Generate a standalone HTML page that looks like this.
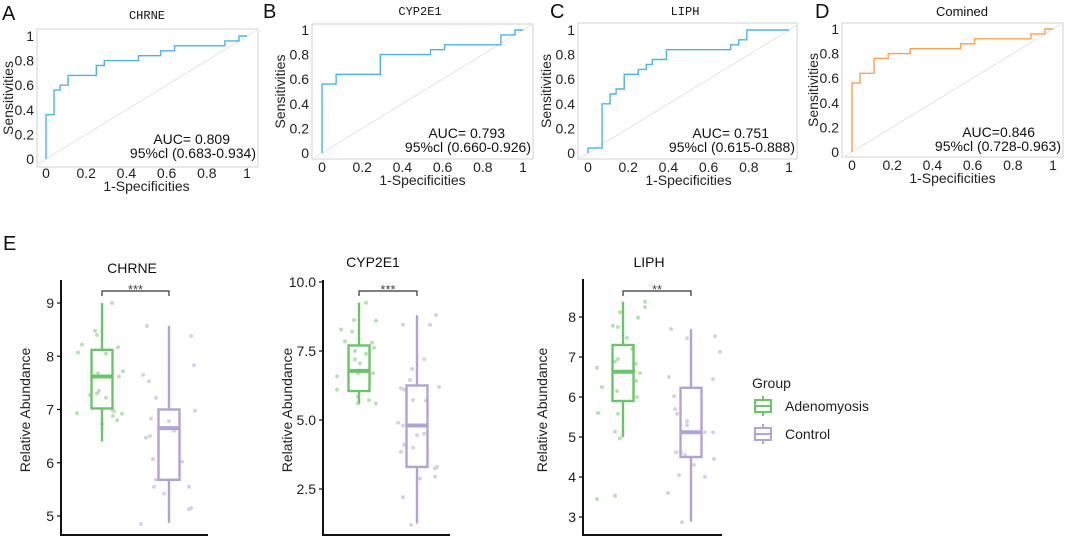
<!DOCTYPE html>
<html><head><meta charset="utf-8"><style>
body{margin:0;background:#fff;}
svg{display:block;font-family:"Liberation Sans",sans-serif;}
</style></head><body>
<svg id="fig" width="1065" height="538" viewBox="0 0 1065 538" xmlns="http://www.w3.org/2000/svg"></svg>
<script>
// ROC data (fpr vertices, tpr vertices)
const rocA_fpr=[0,0,0.04,0.04,0.07,0.07,0.11,0.11,0.25,0.25,0.29,0.29,0.46,0.46,0.57,0.57,0.64,0.64,0.89,0.89,0.96,0.96,1];
const rocA_tpr=[0,0.36,0.36,0.56,0.56,0.6,0.6,0.68,0.68,0.76,0.76,0.8,0.8,0.84,0.84,0.88,0.88,0.92,0.92,0.96,0.96,1,1];
const rocB_fpr=[0,0,0.07,0.07,0.29,0.29,0.54,0.54,0.61,0.61,0.89,0.89,0.96,0.96,1];
const rocB_tpr=[0,0.56,0.56,0.64,0.64,0.8,0.8,0.84,0.84,0.88,0.88,0.96,0.96,1,1];
const rocC_fpr=[0,0,0.07,0.07,0.11,0.11,0.14,0.14,0.18,0.18,0.25,0.25,0.29,0.29,0.32,0.32,0.39,0.39,0.71,0.71,0.75,0.75,0.79,0.79,1];
const rocC_tpr=[0,0.04,0.04,0.4,0.4,0.48,0.48,0.52,0.52,0.64,0.64,0.68,0.68,0.72,0.72,0.76,0.76,0.84,0.84,0.88,0.88,0.92,0.92,1,1];
const rocD_fpr=[0,0,0.04,0.04,0.11,0.11,0.18,0.18,0.29,0.29,0.54,0.54,0.61,0.61,0.89,0.89,0.96,0.96,1];
const rocD_tpr=[0,0.56,0.56,0.64,0.64,0.76,0.76,0.8,0.8,0.84,0.84,0.88,0.88,0.92,0.92,0.96,0.96,1,1];
const rocTitles=["CHRNE","CYP2E1","LIPH","Comined"];
const rocAUC=["AUC= 0.809","AUC= 0.793","AUC= 0.751","AUC=0.846"];
const rocCI=["95%cl (0.683-0.934)","95%cl (0.660-0.926)","95%cl (0.615-0.888)","95%cl (0.728-0.963)"];
const rocTicks=[0,0.2,0.4,0.6,0.8,1];
const rocTickLabels=["0","0.2","0.4","0.6","0.8","1"];

// Boxplot data: [whiskerLow, q1, median, q3, whiskerHigh]
const boxTitles=["CHRNE","CYP2E1","LIPH"];
const chrneAdeno=[6.4,7.02,7.62,8.12,9.0];
const chrneCtrl=[4.87,5.68,6.65,7.0,8.57];
const cypAdeno=[5.6,6.05,6.78,7.7,9.25];
const cypCtrl=[1.25,3.3,4.8,6.25,8.8];
const liphAdeno=[5.0,5.9,6.63,7.3,8.38];
const liphCtrl=[2.88,4.5,5.12,6.23,7.7];
const sigLabels=["***","***","**"];
const chrneTicks=[5,6,7,8,9];
const cypTicks=[2.5,5.0,7.5,10.0];
const cypTickLabels=["2.5","5.0","7.5","10.0"];
const liphTicks=[3,4,5,6,7,8];
// jitter points: values and jitter offsets
const chrneAdenoPts=[9.0,8.48,8.4,8.22,8.07,8.17,8.05,7.72,7.62,7.68,7.27,7.35,7.3,7.22,6.93,6.97,6.88,6.8,6.92,6.73,7.0];
const chrneAdenoJit=[10,-7,-5,-20,-24,16,4,21,17,-4,-12,-3,-5,4,-25,12,11,15,20,0,10];
const chrneCtrlPts=[8.57,8.38,7.83,7.65,7.53,7.22,6.98,6.83,6.78,6.6,6.47,6.5,6.07,6.02,5.68,5.55,5.55,5.42,5.15,5.13,4.85];
const chrneCtrlJit=[-22,22,25,-26,-20,-13,26,-18,0,5,-23,-19,-16,13,-13,-15,20,-5,22,20,-28];
const cypAdenoPts=[9.25,8.62,8.6,8.28,8.2,7.85,7.8,7.62,7.5,7.4,7.05,6.7,6.7,6.58,6.1,5.85,5.72,5.6,5.6,7.2];
const cypAdenoJit=[7,-5,17,-18,-7,-14,13,15,-4,7,1,14,-1,-22,-22,-1,10,17,-1,-4];
const cypCtrlPts=[8.8,8.45,8.45,7.2,6.85,6.45,6.2,6.15,6.1,5.72,5.7,4.9,4.8,4.5,4.45,4.1,4.0,3.85,3.3,3.25,2.95,2.88,2.2,1.2];
const cypCtrlJit=[19,13,-14,7,-5,-7,22,-16,-13,-4,9,-19,-14,7,0,-13,-4,-16,20,18,18,3,-14,-6];
const liphAdenoPts=[8.38,8.25,8.12,7.98,7.78,7.75,7.48,7.2,6.95,6.88,6.83,6.73,6.65,6.6,6.4,6.25,6.15,6.0,5.6,5.58,5.13,4.97,3.53,3.45];
const liphAdenoJit=[22,22,-3,15,-10,-5,4,9,-5,-8,13,-26,11,17,13,-21,-6,14,-25,-5,-8,-3,-8,-26];
const liphCtrlPts=[7.7,7.52,7.47,7.13,6.5,6.45,6.02,5.7,5.58,5.4,5.3,5.12,5.12,4.62,4.62,4.55,4.45,4.3,4.05,4.0,3.6,2.87];
const liphCtrlJit=[-20,24,-4,29,-22,22,-17,-16,-14,-4,-4,14,22,-15,-10,-6,23,3,-12,14,-23,-9];

const NS="http://www.w3.org/2000/svg";
const svg=document.getElementById('fig');
function mk(tag,attrs,parent,txt){const e=document.createElementNS(NS,tag);for(const k in attrs)e.setAttribute(k,attrs[k]);if(txt!==undefined)e.textContent=txt;(parent||svg).appendChild(e);return e;}

const rocPanels=[
 {fpr:rocA_fpr,tpr:rocA_tpr,f:[37,29,258,167],x0:46,x1:247,y0:159,y1:36,lab:"A",lx:2,ly:20,ty:19,tx:147,xtY:178,xtitY:191,ylX:13,col:"#4db3e6",mono:true},
 {fpr:rocB_fpr,tpr:rocB_tpr,f:[312,24,533,159],x0:322,x1:523,y0:153,y1:30,lab:"B",lx:263,ly:18,ty:15,tx:420,xtY:172,xtitY:185,ylX:285,col:"#4db3e6",mono:true},
 {fpr:rocC_fpr,tpr:rocC_tpr,f:[578,23,797,159],x0:588,x1:789,y0:153,y1:30,lab:"C",lx:550,ly:18,ty:15,tx:685,xtY:172,xtitY:185,ylX:551,col:"#4db3e6",mono:true},
 {fpr:rocD_fpr,tpr:rocD_tpr,f:[842,23,1063,157],x0:852,x1:1053,y0:152,y1:29,lab:"D",lx:815,ly:18,ty:16,tx:962,xtY:170,xtitY:183,ylX:818,col:"#f5a24f",mono:false}
];
rocPanels.forEach((p,i)=>{
 const g=mk('g',{});
 
 
 const sx=v=>p.x0+v*(p.x1-p.x0), sy=v=>p.y0-v*(p.y0-p.y1);
 const pl=mk('text',{x:p.lx,y:p.ly,'font-size':20,fill:'#111'},g,p.lab);
 
 const t=mk('text',{x:p.tx,y:p.ty,'font-size':p.mono?12:13,'text-anchor':'middle',fill:'#111','font-family':p.mono?'"Liberation Mono",monospace':'"Liberation Sans",sans-serif'},g,rocTitles[i]);
 
 const fr=mk('rect',{x:p.f[0],y:p.f[1],width:p.f[2]-p.f[0],height:p.f[3]-p.f[1],fill:'none',stroke:'#d0d0d0','stroke-width':1},g);
 
 const dg=mk('line',{x1:sx(-0.04),y1:sy(-0.04),x2:sx(1.04),y2:sy(1.04),stroke:'#e4e4e4','stroke-width':1},g);
 
 rocTicks.forEach((v,k)=>{
  const a=mk('text',{x:sx(v),y:p.xtY,'font-size':14,'text-anchor':'middle',fill:'#222'},g,rocTickLabels[k]);
  
  const b=mk('text',{x:p.f[0]-3,y:sy(v)+5,'font-size':14,'text-anchor':'end',fill:'#222'},g,rocTickLabels[k]);
  
 });
 const xt=mk('text',{x:(p.x0+p.x1)/2,y:p.xtitY,'font-size':14,'text-anchor':'middle',fill:'#222'},g,'1-Specificities');
 
 const cy=(p.f[1]+p.f[3])/2;
 const yt=mk('text',{x:p.ylX,y:cy,'font-size':14,'text-anchor':'middle',fill:'#222',transform:`rotate(-90 ${p.ylX} ${cy})`},g,'Sensitivities');
 
 let d='';p.fpr.forEach((v,k)=>{d+=(k?'L':'M')+sx(v).toFixed(1)+','+sy(p.tpr[k]).toFixed(1);});
 const ln=mk('path',{d:d,fill:'none',stroke:p.col,'stroke-width':1.4},g);
 
 const a1=mk('text',{x:p.f[2]-28,y:p.y0-15,'font-size':14,'text-anchor':'end',fill:'#111'},g,rocAUC[i]);
 
 const a2=mk('text',{x:p.f[2]-2,y:p.y0-1,'font-size':14,'text-anchor':'end',fill:'#111'},g,rocCI[i]);
 
});

// E panels
const eLab=mk('text',{x:3,y:250,'font-size':20,fill:'#111'},svg,'E');

const boxPanels=[
 {ax:61,top:280,right:208,vA:9,pA:303,vB:5,pB:516,cg:102,cp:169,ticks:chrneTicks,tl:chrneTicks.map(String),g:chrneAdeno,c:chrneCtrl,gp:chrneAdenoPts,gj:chrneAdenoJit,cpv:chrneCtrlPts,cj:chrneCtrlJit,tx:132,ylX:30},
 {ax:323,top:280,right:450,vA:10,pA:282,vB:2.5,pB:489,cg:359,cp:417,ticks:cypTicks,tl:cypTickLabels,g:cypAdeno,c:cypCtrl,gp:cypAdenoPts,gj:cypAdenoJit,cpv:cypCtrlPts,cj:cypCtrlJit,tx:373,ylX:292},
 {ax:583,top:279,right:722,vA:8,pA:317,vB:3,pB:517,cg:623,cp:691,ticks:liphTicks,tl:liphTicks.map(String),g:liphAdeno,c:liphCtrl,gp:liphAdenoPts,gj:liphAdenoJit,cpv:liphCtrlPts,cj:liphCtrlJit,tx:649,ylX:547}
];
const GREEN="#6cc46a",PURP="#b4a2d6",GREENP="#b9e2b4",PURPP="#d9d0ea";
boxPanels.forEach((p,i)=>{
 const g=mk('g',{});
 
 
 const sy=v=>p.pB+(v-p.vB)*(p.pA-p.pB)/(p.vA-p.vB);
 const t=mk('text',{x:p.tx,y:i==0?273:267,'font-size':14,'text-anchor':'middle',fill:'#111'},g,boxTitles[i]);
 
 const axl=mk('path',{d:`M${p.ax},${p.top}V535H${p.right}`,fill:'none',stroke:'#111','stroke-width':2},g);
 
 p.ticks.forEach((v,k)=>{
  const tk=mk('line',{x1:p.ax-4,x2:p.ax,y1:sy(v),y2:sy(v),stroke:'#111','stroke-width':1.2},g);
  
  const tl=mk('text',{x:p.ax-7,y:sy(v)+5,'font-size':14,'text-anchor':'end',fill:'#222'},g,p.tl[k]);
  
 });
 const yt=mk('text',{x:p.ylX,y:410,'font-size':14,'text-anchor':'middle',fill:'#222',transform:`rotate(-90 ${p.ylX} 410)`},g,'Relative Abundance');
 
 [[p.gp,p.gj,p.cg,GREENP],[p.cpv,p.cj,p.cp,PURPP]].forEach(s=>{
  s[0].forEach((v,k)=>{
   const c=mk('circle',{cx:s[2]+s[1][k],cy:sy(v),r:2,fill:s[3]},g);
   
  });
 });
 [[p.g,p.cg,GREEN,'box-adenomyosis'],[p.c,p.cp,PURP,'box-control']].forEach(s=>{
  const b=s[0],cx=s[1],col=s[2];
  const w1=mk('line',{x1:cx,x2:cx,y1:sy(b[0]),y2:sy(b[1]),stroke:col,'stroke-width':2.4},g);
  
  const w2=mk('line',{x1:cx,x2:cx,y1:sy(b[3]),y2:sy(b[4]),stroke:col,'stroke-width':2.4},g);
  
  const r=mk('rect',{x:cx-10.5,y:sy(b[3]),width:21,height:sy(b[1])-sy(b[3]),fill:'none',stroke:col,'stroke-width':2.4},g);
  
  const m=mk('line',{x1:cx-10.5,x2:cx+10.5,y1:sy(b[2]),y2:sy(b[2]),stroke:col,'stroke-width':4},g);
  
 });
 const br=mk('path',{d:`M${p.cg},296V291H${p.cp}V296`,fill:'none',stroke:'#333','stroke-width':1.2},g);
 
 const st=mk('text',{x:(p.cg+p.cp)/2,y:294,'font-size':13,'text-anchor':'middle',fill:'#444'},g,sigLabels[i]);
 
});
// legend
const lg=mk('g',{});


const lt=mk('text',{x:752,y:388,'font-size':14,fill:'#222'},lg,'Group');

[[406,GREEN,'Adenomyosis'],[434,PURP,'Control']].forEach(s=>{
 const e=mk('g',{},lg);
 
 
 mk('line',{x1:763,x2:763,y1:s[0]-10,y2:s[0]+10,stroke:s[1],'stroke-width':2},e);
 mk('rect',{x:755,y:s[0]-6,width:16,height:12,fill:'#fff',stroke:s[1],'stroke-width':2},e);
 mk('line',{x1:755,x2:771,y1:s[0],y2:s[0],stroke:s[1],'stroke-width':2},e);
 mk('text',{x:785,y:s[0]+5,'font-size':14,fill:'#222'},e,s[2]);
});
</script>
</body></html>
